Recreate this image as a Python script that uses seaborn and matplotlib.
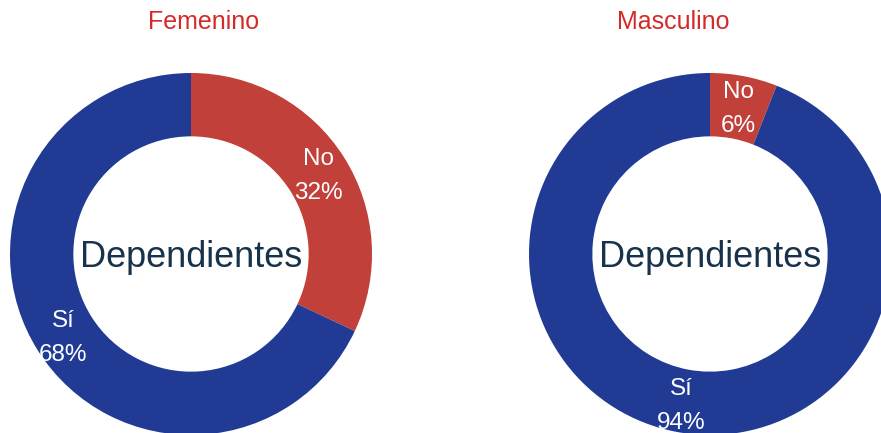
import matplotlib
matplotlib.use("Agg")
import numpy as np
import matplotlib.pyplot as plt
import seaborn as sns

# datos
generos = ["Femenino", "Masculino"]
categorias = ["No", "Sí"]
no_pct = [32, 6]
si_pct = [68, 94]
centro_txt = "Dependientes"

colores = ["#c1403a", "#213b95"]

sns.set_theme(style="white")
plt.rcParams["font.family"] = ["Liberation Sans", "DejaVu Sans"]

fig = plt.figure(figsize=(8.81, 4.33), dpi=100)
W, H = 881, 433
R = 181  # radio exterior en px
centros = [(191, 254), (710, 254)]
titulos_x = [204, 673]

for i, g in enumerate(generos):
    cx, cy = centros[i]
    ax = fig.add_axes([(cx - R) / W, (H - cy - R) / H, 2 * R / W, 2 * R / H])
    vals = [no_pct[i], si_pct[i]]
    wedges, _ = ax.pie(vals, colors=colores, startangle=90, counterclock=False,
                       radius=1, wedgeprops=dict(width=0.35, linewidth=0))
    for w, cat, v in zip(wedges, categorias, vals):
        ang = np.deg2rad((w.theta1 + w.theta2) / 2)
        ax.text(0.835 * np.cos(ang), 0.835 * np.sin(ang) - 0.018, f"{cat}\n{v}%",
                ha="center", va="center", color="white", fontsize=17.5, linespacing=1.7)
    ax.text(0, -0.07, centro_txt, ha="center", va="baseline", fontsize=26, color="#17324a")
    ax.set_xlim(-1, 1)
    ax.set_ylim(-1, 1)
    ax.set_aspect("equal")
    ax.axis("off")
    fig.text(titulos_x[i] / W, (H - 29.3) / H, g, ha="center", va="baseline",
             fontsize=18, color="#d42a2a")

fig.savefig("out.png", dpi=100)
